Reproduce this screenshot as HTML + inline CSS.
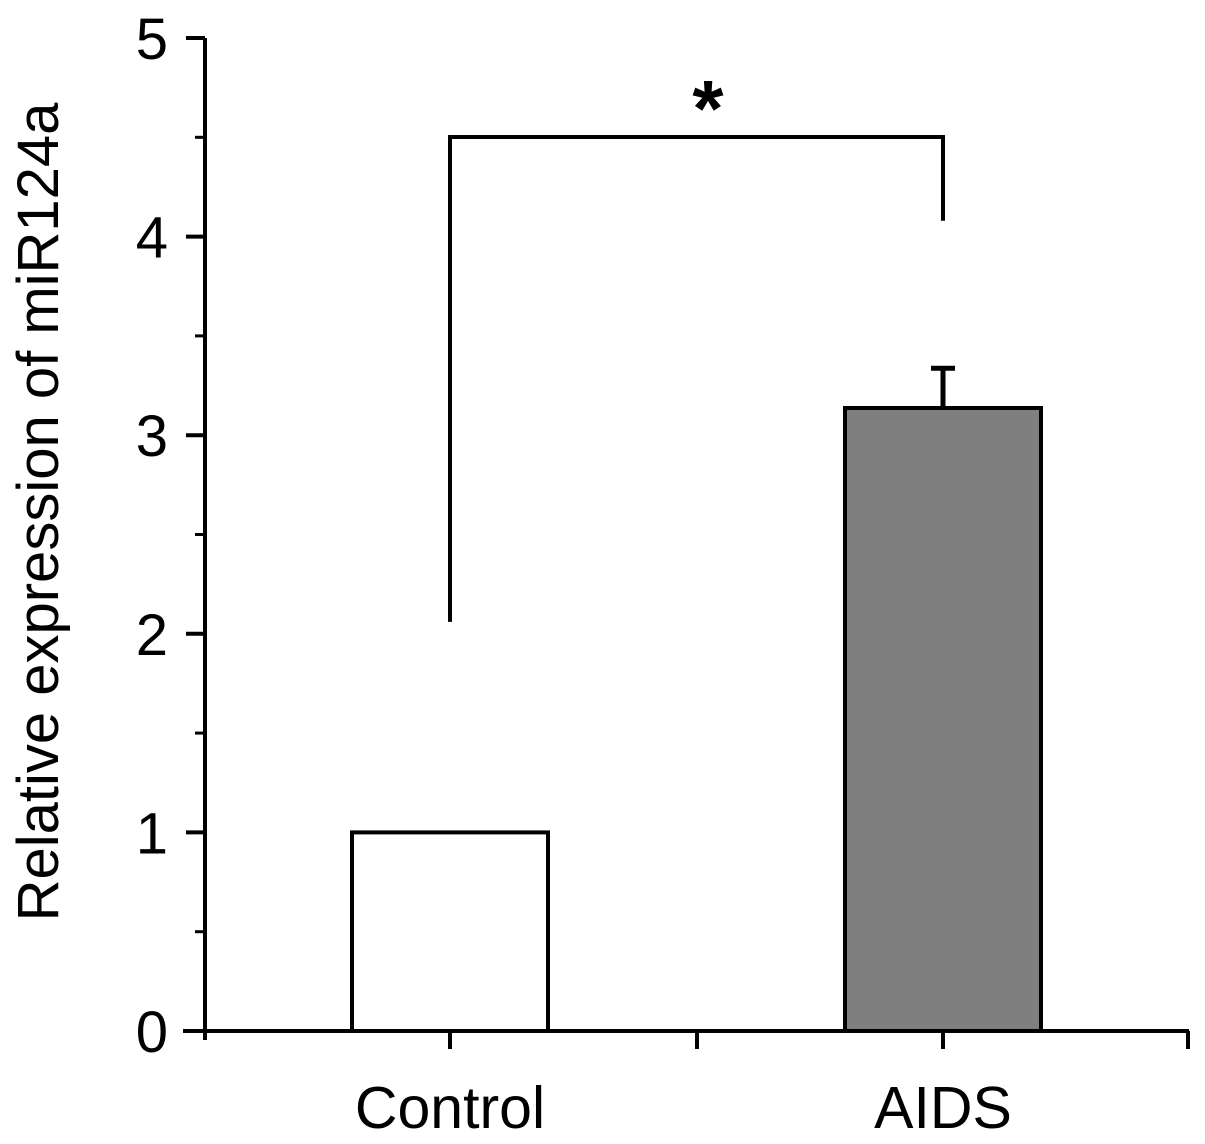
<!DOCTYPE html>
<html><head><meta charset="utf-8"><style>
html,body{margin:0;padding:0;background:#fff;}
svg{display:block;font-family:"Liberation Sans",Arial,sans-serif;}
</style></head><body>
<svg id="chart" width="1205" height="1144" viewBox="0 0 1205 1144"></svg>
<script>
const categories = ["Control", "AIDS"];
const values = [1.0, 3.137];
const errors = [0, 0.2];
const fills = ["#ffffff", "#7f7f7f"];
const yTicks = [0, 1, 2, 3, 4, 5];
const yTickLabels = ["0", "1", "2", "3", "4", "5"];
const sigLabel = "*";

const NS = "http://www.w3.org/2000/svg";
const svg = document.getElementById("chart");
const y0 = 1031, yUnit = 198.6;
const yScale = v => y0 - v * yUnit;
const xCenters = [450, 943];
const xScale = i => xCenters[i];
const barW = 196;
function mk(tag, attrs, parent) {
  const e = document.createElementNS(NS, tag);
  for (const k in attrs) e.setAttribute(k, attrs[k]);
  (parent || svg).appendChild(e);
  return e;
}
let e;
categories.forEach((c, i) => {
  const top = yScale(values[i]);
  e = mk("rect", {x: xScale(i) - barW / 2, y: top, width: barW, height: y0 - top, fill: fills[i], stroke: "#000", "stroke-width": 4});
  
  
  if (errors[i] > 0) {
    const et = yScale(values[i] + errors[i]);
    e = mk("path", {d: `M${xScale(i)},${top} V${et} M${xScale(i)-12},${et} H${xScale(i)+12}`, stroke: "#000", "stroke-width": 5, fill: "none"});
    
    
  }
  e = mk("text", {x: xScale(i), y: 1128, "font-size": 59, "text-anchor": "middle", fill: "#000"});
  e.textContent = c;
  
  
});
e = mk("path", {d: `M183,${y0} H1189 M205,${y0+9} V${yScale(5)}`, stroke: "#000", "stroke-width": 4, fill: "none"});


[450, 697, 943, 1188].forEach(x => {
  e = mk("line", {x1: x, x2: x, y1: y0, y2: y0 + 18, stroke: "#000", "stroke-width": 4});
  
  
});
yTicks.forEach((t, i) => {
  const y = yScale(t);
  e = mk("line", {x1: 186, x2: 205, y1: y, y2: y, stroke: "#000", "stroke-width": 4});
  
  
  e = mk("text", {x: 168, y: y + 21, "font-size": 58, "text-anchor": "end", fill: "#000"});
  e.textContent = yTickLabels[i];
  
  
  if (i < yTicks.length - 1) {
    const ym = yScale(t + 0.5);
    e = mk("line", {x1: 195, x2: 205, y1: ym, y2: ym, stroke: "#000", "stroke-width": 3});
    
    
  }
});
e = mk("text", {x: 58, y: 512, "font-size": 58, "text-anchor": "middle", fill: "#000", transform: "rotate(-90 58 512)"});
e.textContent = "Relative expression of miR124a";


e = mk("path", {d: `M${xScale(0)},${yScale(2.06)} V137 H${xScale(1)} V${yScale(4.08)}`, stroke: "#000", "stroke-width": 4, fill: "none"});


e = mk("text", {x: 708, y: 136, "font-size": 80, "font-weight": "bold", "text-anchor": "middle", fill: "#000"});
e.textContent = sigLabel;


</script>
</body></html>
